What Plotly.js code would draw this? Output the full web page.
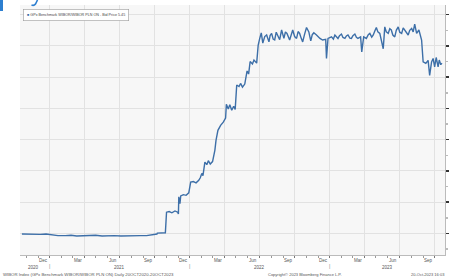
<!DOCTYPE html>
<html><head><meta charset="utf-8">
<script src="https://cdn.plot.ly/plotly-3.0.1.min.js"></script>
<style>html,body{margin:0;padding:0;background:#fff;}#chart{width:449px;height:280px;}</style>
</head><body><div id="chart"></div>
<script>
// ---- data (WIBOR PLN overnight, bid) ----
const dates = [
'2020-10-20','2020-11-05','2020-11-20','2020-12-07','2020-12-22','2021-01-08','2021-01-22','2021-02-10','2021-02-25','2021-03-12',
'2021-03-30','2021-04-15','2021-04-30','2021-05-17','2021-06-02','2021-06-18','2021-07-05','2021-07-22','2021-08-09','2021-08-25',
'2021-09-10','2021-09-27','2021-10-07','2021-10-08','2021-10-15','2021-10-22','2021-10-29','2021-11-01','2021-11-08','2021-11-15',
'2021-11-23','2021-11-30','2021-12-02','2021-12-03','2021-12-06','2021-12-08','2021-12-15','2021-12-22','2021-12-29','2022-01-03',
'2022-01-10','2022-01-17','2022-01-24','2022-01-28','2022-02-01','2022-02-04','2022-02-09','2022-02-14','2022-02-18','2022-02-23',
'2022-03-01','2022-03-07','2022-03-10','2022-03-15','2022-03-22','2022-03-29','2022-04-04','2022-04-06','2022-04-11','2022-04-15',
'2022-04-20','2022-04-25','2022-04-29','2022-05-03','2022-05-09','2022-05-13','2022-05-18','2022-05-24','2022-05-30','2022-06-03',
'2022-06-07','2022-06-13','2022-06-17','2022-06-24','2022-06-28','2022-07-02','2022-07-06','2022-07-10','2022-07-15','2022-07-20',
'2022-07-26','2022-07-29','2022-08-02','2022-08-06','2022-08-10','2022-08-14','2022-08-18','2022-08-23','2022-08-28','2022-09-03',
'2022-09-07','2022-09-11','2022-09-18','2022-09-22','2022-09-26','2022-10-01','2022-10-06','2022-10-10','2022-10-14','2022-10-18',
'2022-10-22','2022-10-27','2022-11-01','2022-11-07','2022-11-12','2022-11-16','2022-11-20','2022-11-27','2022-12-01','2022-12-06',
'2022-12-13','2022-12-21','2022-12-23','2022-12-27','2023-01-05','2023-01-10','2023-01-14','2023-01-22','2023-01-26','2023-01-31',
'2023-02-04','2023-02-09','2023-02-13','2023-02-17','2023-02-22','2023-02-26','2023-03-02','2023-03-07','2023-03-11','2023-03-15',
'2023-03-22','2023-03-25','2023-03-30','2023-04-06','2023-04-11','2023-04-15','2023-04-20','2023-04-24','2023-04-28','2023-05-02',
'2023-05-06','2023-05-11','2023-05-20','2023-05-24','2023-05-28','2023-06-02','2023-06-06','2023-06-10','2023-06-14','2023-06-19',
'2023-06-23','2023-06-28','2023-07-02','2023-07-07','2023-07-11','2023-07-15','2023-07-20','2023-07-24','2023-07-28','2023-08-02',
'2023-08-06','2023-08-10','2023-08-15','2023-08-21','2023-08-28','2023-09-01','2023-09-08','2023-09-14','2023-09-18','2023-09-23',
'2023-09-27','2023-10-01','2023-10-05','2023-10-10','2023-10-13','2023-10-17','2023-10-20'
];
const bidPrice = [
-0.02,-0.03,-0.02,-0.03,-0.02,-0.05,-0.07,-0.07,-0.06,-0.08,
-0.07,-0.07,-0.06,-0.08,-0.07,-0.07,-0.08,-0.07,-0.06,-0.07,
-0.07,-0.05,-0.02,0.01,0.02,0.01,0.02,0.68,0.70,0.66,
0.72,0.68,0.62,1.17,0.95,1.20,1.24,1.22,1.30,1.64,
1.66,1.62,1.70,1.78,1.92,1.85,2.28,2.20,2.33,2.22,
2.30,2.66,2.98,3.30,3.46,3.56,3.69,4.13,3.98,4.12,
3.94,4.07,3.97,4.75,4.70,4.80,4.68,4.78,5.20,5.10,
5.50,5.42,5.55,5.45,6.03,6.24,6.42,6.09,6.30,6.35,
6.13,6.33,6.40,6.22,6.19,6.44,6.35,6.20,6.51,6.24,
6.45,6.40,6.19,6.36,6.51,6.30,6.24,6.46,6.40,6.25,
6.13,6.38,6.59,6.45,6.16,6.36,6.42,6.35,6.30,6.24,
6.19,6.21,5.60,6.24,6.29,6.22,6.35,6.24,6.33,6.38,
6.27,6.24,6.32,6.35,6.25,6.24,6.33,6.38,6.28,6.24,
6.29,5.81,6.29,6.24,6.36,6.40,6.28,6.35,6.48,6.59,
6.45,6.40,5.91,6.61,6.45,6.40,6.55,6.51,6.35,6.29,
6.50,6.61,6.44,6.40,6.58,6.51,6.40,6.35,6.50,6.56,
6.45,6.70,6.40,6.51,6.19,5.49,5.44,5.54,5.06,5.49,
5.60,5.33,5.63,5.33,5.55,5.40,5.45
];
const seriesName = 'GPx Benchmark WIBOR/WIBOR PLN ON - Bid Price 5.45';
const monthTickDates = ['2020-12-15','2021-03-15','2021-06-15','2021-09-15','2021-12-15','2022-03-15','2022-06-15','2022-09-15','2022-12-15','2023-03-15','2023-06-15','2023-09-15'];
const monthTickLabels = ['Dec','Mar','Jun','Sep','Dec','Mar','Jun','Sep','Dec','Mar','Jun','Sep'];
const yearLabelDates = ['2020-11-20','2021-07-02','2022-07-01','2023-06-01'];
const yearLabels = ['2020','2021','2022','2023'];
const yearBreaks = ['2021-01-01','2022-01-01','2023-01-01'];
const gridDates = ['2021-01-01','2021-04-01','2021-07-01','2021-10-01','2022-01-01','2022-04-01','2022-07-01','2022-10-01','2023-01-01','2023-04-01','2023-07-01','2023-10-01'];
const footerLeft = 'WIBOR Index (GPx Benchmark WIBOR/WIBOR PLN ON) Daily 20OCT2020-20OCT2023';
const footerMid = 'Copyright\u00A9 2023 Bloomberg Finance L.P.';
const footerRight = '20-Oct-2023 16:03';

const FONT = 'Arial, "Liberation Sans", sans-serif';
const lineColor = '#3d6fa8';

const annotations = [];
monthTickDates.forEach((d,i)=>annotations.push({x:d,y:0,xref:'x',yref:'paper',text:monthTickLabels[i],showarrow:false,yanchor:'middle',yshift:-5,font:{size:4.5,color:'#555',family:FONT}}));
yearLabelDates.forEach((d,i)=>annotations.push({x:d,y:0,xref:'x',yref:'paper',text:yearLabels[i],showarrow:false,yanchor:'middle',yshift:-12,font:{size:4.5,color:'#555',family:FONT}}));
yearBreaks.forEach(d=>annotations.push({x:d,y:0,xref:'x',yref:'paper',text:'|',showarrow:false,yanchor:'middle',yshift:-11,font:{size:5,color:'#888',family:FONT}}));
annotations.push({x:-19/425,y:0,xref:'paper',yref:'paper',xanchor:'left',yanchor:'middle',yshift:-19,text:footerLeft,showarrow:false,font:{size:4.3,color:'#555',family:FONT}});
annotations.push({x:(305-20)/425,y:0,xref:'paper',yref:'paper',xanchor:'center',yanchor:'middle',yshift:-19,text:footerMid,showarrow:false,font:{size:4,color:'#555',family:FONT}});
annotations.push({x:(447-20)/425,y:0,xref:'paper',yref:'paper',xanchor:'right',yanchor:'middle',yshift:-19,text:footerRight,showarrow:false,font:{size:4,color:'#555',family:FONT}});
// legend box
annotations.push({x:(23-20)/425,y:1,xref:'paper',yref:'paper',xanchor:'left',yanchor:'top',yshift:-4,
  text:'<span style="color:'+lineColor+'">\u25A0</span> '+seriesName,showarrow:false,
  bgcolor:'#ffffff',bordercolor:'#9a9a9a',borderwidth:0.6,borderpad:3.5,font:{size:3.7,color:'#444',family:FONT}});

const trace = {x:dates,y:bidPrice,type:'scatter',mode:'lines',name:seriesName,line:{color:lineColor,width:1.4},showlegend:false};

const layout = {
  width:449,height:280,
  margin:{l:20,r:4,t:5,b:25},
  paper_bgcolor:'#ffffff',plot_bgcolor:'#f7f7f7',
  font:{family:FONT,size:5,color:'#555'},
  xaxis:{type:'date',range:['2020-10-15','2023-10-28'],tickmode:'array',tickvals:gridDates,ticktext:gridDates.map(()=>''),
    showgrid:true,gridcolor:'#e2e2e2',gridwidth:1,ticks:'outside',ticklen:2,tickcolor:'#777',
    showline:true,linecolor:'#bbbbbb',linewidth:1,zeroline:false,
    minor:{dtick:'M1',tick0:'2020-10-01',ticks:'outside',ticklen:1.5,tickcolor:'#999',showgrid:false}},
  yaxis:{side:'right',range:[-0.69,7.31],tick0:0,dtick:1,showgrid:true,gridcolor:'#e2e2e2',gridwidth:1,
    ticks:'outside',ticklen:3,tickwidth:1.5,tickcolor:'#333',showticklabels:false,showline:true,linecolor:'#bbbbbb',zeroline:false,
    minor:{dtick:0.5,ticks:'outside',ticklen:2,tickcolor:'#bbb',showgrid:false}},
  shapes:[
    // cropped page heading fragments at the very top (blue bar and a descender)
    {type:'rect',xref:'paper',yref:'paper',x0:-20/425,x1:-17/425,y0:1+5/250,y1:1-6/250,fillcolor:'#2d7fd0',line:{width:0}},
    {type:'path',xref:'paper',yref:'paper',path:'M '+(37.5-20)/425+' '+(1+5/250)+' L '+(35.5-20)/425+' '+(1+1/250)+' Q '+(34-20)/425+' '+(1-1/250)+' '+(31.5-20)/425+' '+(1+0/250),
     line:{color:'#2d7fd0',width:1.6}}
  ],
  annotations:annotations,
  showlegend:false
};
Plotly.newPlot('chart',[trace],layout,{displayModeBar:false,staticPlot:true});
</script></body></html>
